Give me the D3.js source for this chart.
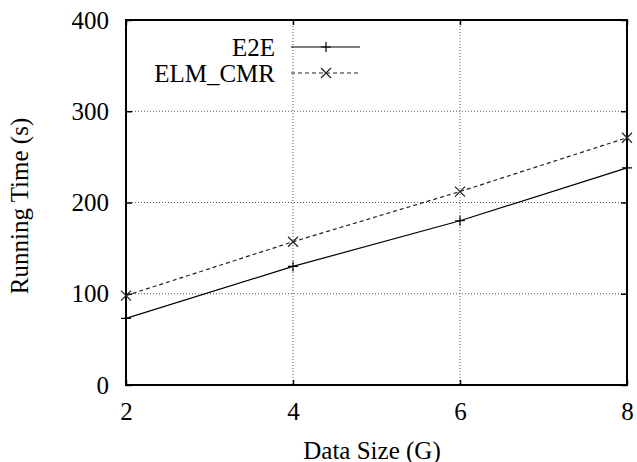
<!DOCTYPE html>
<html>
<head>
<meta charset="utf-8">
<script src="https://cdn.jsdelivr.net/npm/d3@7"></script>
<style>
  body { margin: 0; background: #fff; }
  svg text { font-family: "Liberation Serif", "Times New Roman", serif; fill: #000; }
</style>
</head>
<body>
<script>
const sizes = [2, 4, 6, 8];
const e2e = [73, 130, 180, 238];
const elmCmr = [98, 157, 212, 271];
const xTicks = [2, 4, 6, 8];
const yTicks = [0, 100, 200, 300, 400];
const seriesNames = ["E2E", "ELM_CMR"];

var width = 637, height = 462;
var pLeft = 126, pRight = 627, pTop = 20, pBottom = 385;
var fontSize = 25;

var svg = d3.select('body').append('svg')
    .attr('width', width)
    .attr('height', height);

var xScale = d3.scaleLinear().domain([2, 8]).range([pLeft, pRight]);
var yScale = d3.scaleLinear().domain([0, 400]).range([pBottom, pTop]);

// grid
svg.append('g').selectAll('line')
    .data(xTicks.slice(1, -1))
    .enter().append('line')
    .attr('x1', d => xScale(d)).attr('x2', d => xScale(d))
    .attr('y1', pTop).attr('y2', pBottom)
    .attr('stroke', '#555').attr('stroke-width', 1)
    .attr('stroke-dasharray', '1,2');
svg.append('g').selectAll('line')
    .data(yTicks.slice(1, -1))
    .enter().append('line')
    .attr('y1', d => yScale(d)).attr('y2', d => yScale(d))
    .attr('x1', pLeft).attr('x2', pRight)
    .attr('stroke', '#555').attr('stroke-width', 1)
    .attr('stroke-dasharray', '1,2');

// axes (inside ticks, mirrored)
var xAxis = d3.axisBottom(xScale).tickValues(xTicks).tickFormat(d3.format('d'))
    .tickSizeInner(-5).tickSizeOuter(0);
var xg = svg.append('g').attr('transform', `translate(0,${pBottom})`).call(xAxis);
xg.selectAll('.tick text').attr('y', 35).attr('dy', null);
var yAxis = d3.axisLeft(yScale).tickValues(yTicks).tickFormat(d3.format('d'))
    .tickSizeInner(-6).tickSizeOuter(0).tickPadding(17);
var yg = svg.append('g').attr('transform', `translate(${pLeft},0)`).call(yAxis);
var xTop = svg.append('g').attr('transform', `translate(0,${pTop})`)
    .call(d3.axisTop(xScale).tickValues(xTicks).tickSizeInner(-5).tickSizeOuter(0).tickFormat(''));
var yRight = svg.append('g').attr('transform', `translate(${pRight},0)`)
    .call(d3.axisRight(yScale).tickValues(yTicks).tickSizeInner(-6).tickSizeOuter(0).tickFormat(''));

[xg, yg, xTop, yRight].forEach(g => {
  g.select('.domain').remove();
  g.selectAll('.tick line').attr('stroke', '#000').attr('stroke-width', 1.5);
  g.selectAll('.tick text').style('font-size', fontSize + 'px').style('font-family', '"Liberation Serif", serif');
});

// frame
svg.append('rect')
    .attr('x', pLeft).attr('y', pTop)
    .attr('width', pRight - pLeft).attr('height', pBottom - pTop)
    .attr('fill', 'none').attr('stroke', '#000').attr('stroke-width', 2);

// axis titles
svg.append('text')
    .attr('x', 372).attr('y', 459)
    .attr('text-anchor', 'middle').style('font-size', fontSize + 'px')
    .text('Data Size (G)');
svg.append('text')
    .attr('transform', `translate(28,206) rotate(-90)`)
    .attr('text-anchor', 'middle').style('font-size', fontSize + 'px')
    .text('Running Time (s)');

// series
var line = d3.line().x((d, i) => xScale(sizes[i])).y(d => yScale(d));
var styles = [
  { data: e2e, dash: null, color: '#000', marker: 'plus' },
  { data: elmCmr, dash: '4,3', color: '#222', marker: 'cross' }
];

function marker(g, x, y, type, color) {
  var s = 5;
  var p = type === 'plus'
    ? `M${x - s},${y}L${x + s},${y}M${x},${y - s}L${x},${y + s}`
    : `M${x - s},${y - s}L${x + s},${y + s}M${x - s},${y + s}L${x + s},${y - s}`;
  g.append('path').attr('d', p).attr('stroke', color).attr('stroke-width', 1.2).attr('fill', 'none');
}

styles.forEach((st, k) => {
  svg.append('path')
      .datum(st.data)
      .attr('d', line)
      .attr('fill', 'none')
      .attr('stroke', st.color)
      .attr('stroke-width', 1.2)
      .attr('stroke-dasharray', st.dash);
  var mg = svg.append('g');
  st.data.forEach((v, i) => marker(mg, xScale(sizes[i]), yScale(v), st.marker, st.color));

  // legend
  var ly = 47 + k * 26;
  svg.append('text')
      .attr('x', 275).attr('y', ly + 9)
      .attr('text-anchor', 'end').style('font-size', fontSize + 'px')
      .text(seriesNames[k]);
  svg.append('line')
      .attr('x1', 291).attr('x2', 360).attr('y1', ly).attr('y2', ly)
      .attr('stroke', st.color).attr('stroke-width', 1.2)
      .attr('stroke-dasharray', st.dash);
  marker(svg, 326, ly, st.marker, st.color);
});
</script>
</body>
</html>
